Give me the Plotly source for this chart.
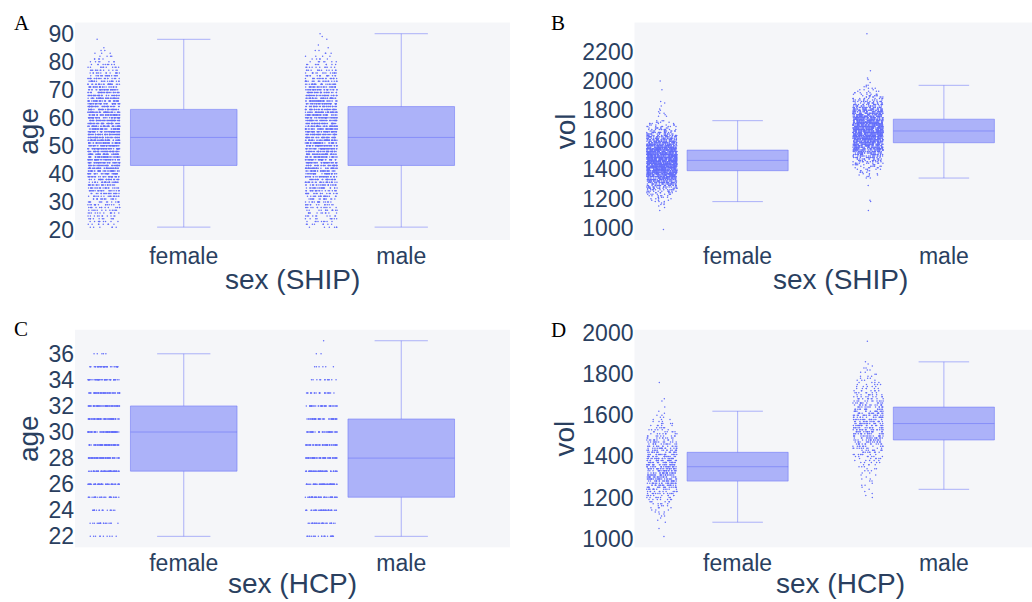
import numpy as np
import plotly.graph_objects as go

# ---------------------------------------------------------------------------
# Data: frequency tables (value, number of subjects) per sex and cohort
# ---------------------------------------------------------------------------
sexes = ["female", "male"]

# SHIP cohort, age in years
ship_age_female = [
    (21, 6), (22, 8), (23, 9), (24, 10), (25, 11), (26, 12), (27, 12), (28, 14), (29, 15),
    (30, 15), (31, 16), (32, 18), (33, 20), (34, 22), (35, 23), (36, 25), (37, 27), (38, 29),
    (39, 31), (40, 33), (41, 37), (42, 38), (43, 40), (44, 41), (45, 42), (46, 42), (47, 43),
    (48, 43), (49, 44), (50, 44), (51, 44), (52, 45), (53, 45), (54, 45), (55, 44), (56, 44),
    (57, 44), (58, 43), (59, 43), (60, 42), (61, 42), (62, 41), (63, 40), (64, 39), (65, 38),
    (66, 37), (67, 35), (68, 34), (69, 32), (70, 30), (71, 28), (72, 25), (73, 23), (74, 20),
    (75, 18), (76, 15), (77, 13), (78, 11), (79, 9), (80, 7), (81, 5), (82, 4), (83, 3),
    (84, 2), (85, 1), (88, 1),
]
ship_age_male = [
    (21, 6), (22, 8), (23, 9), (24, 9), (25, 10), (26, 11), (27, 12), (28, 13), (29, 14),
    (30, 15), (31, 16), (32, 18), (33, 19), (34, 21), (35, 22), (36, 24), (37, 26), (38, 28),
    (39, 30), (40, 32), (41, 34), (42, 35), (43, 37), (44, 38), (45, 39), (46, 40), (47, 40),
    (48, 41), (49, 41), (50, 42), (51, 42), (52, 42), (53, 42), (54, 42), (55, 42), (56, 41),
    (57, 41), (58, 41), (59, 40), (60, 40), (61, 39), (62, 39), (63, 38), (64, 37), (65, 38),
    (66, 37), (67, 35), (68, 34), (69, 32), (70, 30), (71, 28), (72, 26), (73, 22), (74, 20),
    (75, 17), (76, 15), (77, 13), (78, 11), (79, 9), (80, 7), (81, 5), (82, 4), (83, 3),
    (84, 2), (85, 1), (86, 1), (88, 1), (89, 1), (90, 1),
]

# SHIP cohort, volume
ship_vol_female = [
    (990, 1), (1120, 1), (1140, 1), (1150, 1), (1160, 2), (1170, 2), (1180, 3), (1190, 3),
    (1200, 4), (1210, 5), (1220, 6), (1230, 7), (1240, 9), (1250, 11), (1260, 12), (1270, 15),
    (1280, 18), (1290, 21), (1300, 24), (1310, 28), (1320, 32), (1330, 36), (1340, 40),
    (1350, 44), (1360, 48), (1370, 52), (1380, 57), (1390, 63), (1400, 66), (1410, 68),
    (1420, 71), (1430, 70), (1440, 73), (1450, 72), (1460, 71), (1470, 70), (1480, 69),
    (1490, 67), (1500, 64), (1510, 62), (1520, 58), (1530, 55), (1540, 52), (1550, 48),
    (1560, 44), (1570, 41), (1580, 37), (1590, 34), (1600, 30), (1610, 27), (1620, 24),
    (1630, 21), (1640, 18), (1650, 16), (1660, 13), (1670, 11), (1680, 9), (1690, 8),
    (1700, 6), (1710, 5), (1720, 4), (1730, 3), (1760, 2), (1770, 1), (1780, 2), (1790, 1),
    (1800, 1), (1810, 1), (1830, 1), (1850, 1), (1860, 1), (1940, 1), (2000, 1),
]
ship_vol_male = [
    (1120, 1), (1180, 1), (1190, 1), (1290, 1), (1340, 2), (1350, 2), (1360, 3), (1370, 3),
    (1380, 4), (1390, 4), (1400, 5), (1410, 6), (1420, 7), (1430, 8), (1440, 10), (1450, 11),
    (1460, 13), (1470, 15), (1480, 17), (1490, 19), (1500, 23), (1510, 26), (1520, 29),
    (1530, 32), (1540, 34), (1550, 37), (1560, 40), (1570, 41), (1580, 43), (1590, 46),
    (1600, 48), (1610, 50), (1620, 52), (1630, 54), (1640, 55), (1650, 57), (1660, 56),
    (1670, 56), (1680, 55), (1690, 54), (1700, 52), (1710, 50), (1720, 48), (1730, 46),
    (1740, 43), (1750, 41), (1760, 38), (1770, 35), (1780, 32), (1790, 30), (1800, 27),
    (1810, 24), (1820, 22), (1830, 19), (1840, 17), (1850, 15), (1860, 13), (1870, 11),
    (1880, 10), (1890, 8), (1900, 7), (1910, 6), (1920, 5), (1930, 4), (1940, 3), (1950, 3),
    (1960, 2), (1970, 2), (1990, 1), (2010, 1), (2020, 1), (2070, 1), (2320, 1),
]

# HCP cohort, age in years
hcp_age_female = [
    (22, 10), (23, 17), (24, 17), (25, 28), (26, 49), (27, 56), (28, 62), (29, 62),
    (30, 63), (31, 62), (32, 55), (33, 49), (34, 42), (35, 35), (36, 5),
]
hcp_age_male = [
    (22, 22), (23, 27), (24, 37), (25, 45), (26, 52), (27, 52), (28, 57), (29, 50),
    (30, 40), (31, 48), (32, 37), (33, 22), (34, 12), (35, 6), (36, 2), (37, 1),
]

# HCP cohort, volume
hcp_vol_female = [
    (1010, 1), (1050, 1), (1080, 1), (1090, 1), (1100, 1), (1110, 2), (1120, 2), (1130, 3),
    (1140, 3), (1150, 4), (1160, 4), (1170, 5), (1180, 6), (1190, 7), (1200, 8), (1210, 9),
    (1220, 11), (1230, 12), (1240, 14), (1250, 16), (1260, 18), (1270, 20), (1280, 22),
    (1290, 23), (1300, 22), (1310, 23), (1320, 23), (1330, 23), (1340, 23), (1350, 22),
    (1360, 22), (1370, 21), (1380, 21), (1390, 20), (1400, 19), (1410, 18), (1420, 17),
    (1430, 16), (1440, 15), (1450, 14), (1460, 13), (1470, 12), (1480, 11), (1490, 10),
    (1500, 9), (1510, 8), (1520, 7), (1530, 6), (1540, 5), (1550, 5), (1560, 4), (1570, 3),
    (1580, 3), (1590, 2), (1600, 2), (1610, 1), (1620, 1), (1640, 1), (1670, 1), (1680, 1),
    (1760, 1),
]
hcp_vol_male = [
    (1200, 1), (1210, 1), (1220, 1), (1230, 1), (1240, 1), (1250, 1), (1260, 2), (1270, 1),
    (1280, 2), (1290, 2), (1300, 1), (1310, 2), (1320, 2), (1330, 3), (1340, 3), (1350, 3),
    (1360, 4), (1370, 5), (1380, 5), (1390, 6), (1400, 7), (1410, 8), (1420, 9), (1430, 9),
    (1440, 10), (1450, 11), (1460, 13), (1470, 14), (1480, 15), (1490, 15), (1500, 16),
    (1510, 16), (1520, 17), (1530, 17), (1540, 17), (1550, 17), (1560, 17), (1570, 16),
    (1580, 16), (1590, 16), (1600, 16), (1610, 16), (1620, 15), (1630, 14), (1640, 14),
    (1650, 13), (1660, 12), (1670, 11), (1680, 10), (1690, 9), (1700, 8), (1710, 7),
    (1720, 7), (1730, 6), (1740, 5), (1750, 5), (1760, 4), (1770, 4), (1780, 3), (1790, 3),
    (1800, 2), (1810, 2), (1820, 2), (1830, 2), (1840, 1), (1850, 1), (1860, 1), (1960, 1),
]

panel_letters = ["A", "B", "C", "D"]
x_titles = ["sex (SHIP)", "sex (SHIP)", "sex (HCP)", "sex (HCP)"]
y_titles = ["age", "vol", "age", "vol"]


def expand(table):
    values, counts = zip(*table)
    return np.repeat(np.array(values, dtype=float), counts)


def long_form(female_table, male_table):
    f = expand(female_table)
    m = expand(male_table)
    y = np.concatenate([f, m])
    x = [sexes[0]] * len(f) + [sexes[1]] * len(m)
    return x, y


panels = [
    long_form(ship_age_female, ship_age_male),
    long_form(ship_vol_female, ship_vol_male),
    long_form(hcp_age_female, hcp_age_male),
    long_form(hcp_vol_female, hcp_vol_male),
]

# ---------------------------------------------------------------------------
# Figure
# ---------------------------------------------------------------------------
W, H = 1032, 602
BLUE = "#636efa"
HALF_BLUE = "rgba(99,110,250,0.5)"
TEXT = "#2a3f5f"
BG = "#f5f6f9"
SANS = "Liberation Sans, Arial, sans-serif"
SERIF = "Liberation Serif, Times New Roman, serif"
TICK_SIZE = 23
TITLE_SIZE = 28

fig = go.Figure()
for i, (x, y) in enumerate(panels):
    suffix = "" if i == 0 else str(i + 1)
    fig.add_trace(go.Box(
        x=x, y=y,
        boxpoints="all",
        jitter=0.3,
        pointpos=-1.5,
        marker=dict(color=BLUE, size=1.5),
        line=dict(color=HALF_BLUE, width=1),
        fillcolor=HALF_BLUE,
        showlegend=False,
        xaxis="x" + suffix,
        yaxis="y" + suffix,
    ))

# plot areas in pixels: (left, right, top, bottom); the right-hand panels run
# past the page edge, so their category axis is cut at the right border
areas = [
    (75, 510, 12.8, 235.5),
    (634.5, 1032, 12.8, 235.5),
    (75, 510, 327.4, 550.1),
    (634.5, 1032, 327.4, 550.1),
]
category_px = [217.5, 206.25, 217.5, 206.25]   # pixels per category slot
x_title_mid = [275.5, 275.5, 587.5, 587.5]       # vertical middle of x titles
y_title_x = [28.5, 565, 28.5, 565]               # horizontal centre of y titles
y_ranges = [[16.4, 94.0], [919, 2397], [21.16, 37.84], [958, 2016]]
y_dticks = [10, 200, 2, 200]

layout = dict(
    width=W, height=H,
    margin=dict(l=0, r=0, t=0, b=0),
    paper_bgcolor="white",
    plot_bgcolor=BG,
    font=dict(family=SANS, size=TICK_SIZE, color=TEXT),
    showlegend=False,
)
annotations = []
for i, (l, r, t, b) in enumerate(areas):
    suffix = "" if i == 0 else str(i + 1)
    layout["xaxis" + suffix] = dict(
        domain=[l / W, r / W],
        anchor="y" + suffix,
        type="category",
        categoryorder="array", categoryarray=sexes,
        range=[-0.5, -0.5 + (r - l) / category_px[i]],
        showgrid=False, zeroline=False, showline=False,
        tickfont=dict(size=TICK_SIZE, color=TEXT),
    )
    layout["yaxis" + suffix] = dict(
        domain=[1 - b / H, 1 - t / H],
        anchor="x" + suffix,
        range=y_ranges[i],
        dtick=y_dticks[i], tick0=0,
        showgrid=False, zeroline=False, showline=False,
        tickfont=dict(size=TICK_SIZE, color=TEXT),
    )
    # x-axis title, centred under the full two-category span
    annotations.append(dict(
        text=x_titles[i], xref="paper", yref="paper",
        x=(l + category_px[i]) / W, y=1 - x_title_mid[i] / H,
        xanchor="center", yanchor="middle", showarrow=False,
        font=dict(family=SANS, size=TITLE_SIZE, color=TEXT),
    ))
    # y-axis title, rotated, left of the tick labels
    annotations.append(dict(
        text=y_titles[i], xref="paper", yref="paper",
        x=y_title_x[i] / W, y=1 - ((t + b) / 2) / H,
        xanchor="center", yanchor="middle", textangle=-90, showarrow=False,
        font=dict(family=SANS, size=TITLE_SIZE, color=TEXT),
    ))

# panel letters: left edge and vertical middle in pixels
letter_pos = [(12, 12.8), (549, 12.8), (12, 326.4), (549, 327.4)]
for letter, (lx, ly) in zip(panel_letters, letter_pos):
    annotations.append(dict(
        text=letter, xref="paper", yref="paper",
        x=lx / W, y=1 - ly / H, xanchor="left", yanchor="middle",
        showarrow=False,
        font=dict(family=SERIF, size=21, color="black"),
    ))
layout["annotations"] = annotations
fig.update_layout(**layout)

fig.write_html("out.html")
